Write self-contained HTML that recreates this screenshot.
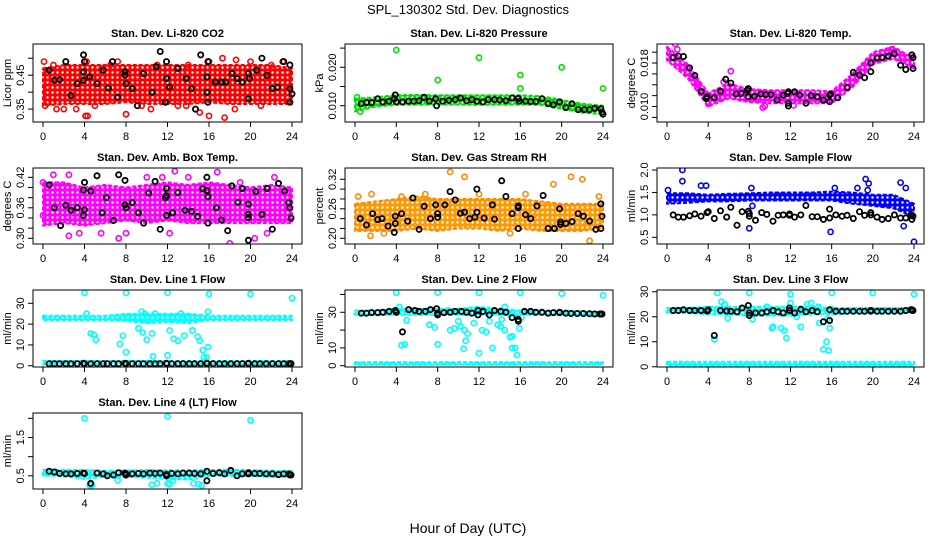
<!DOCTYPE html>
<html><head><meta charset="utf-8"><title>SPL_130302 Std. Dev. Diagnostics</title>
<style>
html,body{margin:0;padding:0;background:#fff;}
svg{display:block;font-family:"Liberation Sans",Arial,sans-serif;}
.pt{font-size:11px;font-weight:bold;}
.tk{font-size:11px;}
</style></head>
<body>
<svg id="chart" width="936" height="540" viewBox="0 0 936 540" xmlns="http://www.w3.org/2000/svg">
<text x="468" y="14" text-anchor="middle" font-size="13">SPL_130302  Std. Dev. Diagnostics</text>
<text x="468" y="533" text-anchor="middle" font-size="14">Hour of Day (UTC)</text>
</svg>
<script>
// ---------- shared data ----------
const bandHours = [0,2,4,6,8,10,12,14,16,18,20,22,24];
const xTicks = [0,4,8,12,16,20,24];
const blackHours = [0.6,1.1,1.6,2.2,2.7,3.3,3.9,4.0,4.6,5.2,5.8,6.2,6.8,7.3,7.9,8.0,8.0,8.6,9.2,9.7,10.3,10.8,11.3,11.9,11.9,12.4,13.0,13.5,14.1,14.6,15.2,15.8,15.8,16.4,17.0,17.5,18.1,18.7,19.2,19.8,19.8,20.4,20.9,21.5,22.1,22.7,23.2,23.7,23.8,23.9];

// ---------- P1 CO2 ----------
const co2Lo = [0.36,0.365,0.365,0.365,0.37,0.365,0.365,0.365,0.37,0.365,0.365,0.365,0.365];
const co2Hi = [0.47,0.48,0.48,0.48,0.48,0.48,0.48,0.48,0.48,0.48,0.48,0.48,0.47];
const co2Out = [[0.1,0.49],[1.3,0.35],[3.2,0.35],[4.1,0.33],[4.3,0.33],[8,0.335],[7.2,0.49],[9.5,0.36],[10.4,0.35],[13,0.36],[15.1,0.34],[16,0.33],[17.3,0.5],[17.5,0.325],[16,0.49],[18.5,0.35],[18.6,0.495],[13.8,0.36],[23.1,0.49],[4.2,0.49],[0.2,0.36],[2,0.35],[5,0.36],[6.5,0.48],[11,0.48],[14,0.48],[20,0.49],[22,0.48],[21,0.36],[1,0.48]];
const co2Black = [[0.6,0.465],[1.1,0.435],[1.6,0.437],[2.2,0.49],[2.7,0.39],[3.3,0.425],[3.9,0.51],[3.9,0.46],[4,0.49],[3.9,0.435],[4.5,0.445],[5.2,0.425],[5.8,0.465],[6.3,0.412],[6.7,0.49],[7.2,0.385],[7.9,0.46],[7.9,0.45],[8,0.425],[8.6,0.41],[9.1,0.36],[9.7,0.455],[10.5,0.4],[10.9,0.475],[11.3,0.52],[11.8,0.37],[11.9,0.49],[11.9,0.44],[12.2,0.415],[13,0.47],[13.8,0.44],[14.3,0.41],[14.7,0.35],[15.2,0.51],[15.8,0.4],[15.8,0.445],[15.9,0.49],[15.9,0.37],[16.6,0.43],[17.2,0.43],[17.6,0.43],[18.2,0.455],[18.7,0.44],[19.2,0.43],[19.8,0.38],[19.8,0.455],[19.9,0.44],[20.6,0.465],[21.1,0.5],[21.6,0.45],[22.1,0.41],[22.6,0.415],[23.2,0.49],[23.8,0.37],[23.8,0.48],[23.8,0.41],[24,0.395]];

// ---------- P2 Pressure ----------
const presLo = [0.0085,0.0098,0.0102,0.0103,0.0103,0.0103,0.0102,0.0103,0.0103,0.0102,0.0092,0.0082,0.0078];
const presHi = [0.0118,0.0122,0.0128,0.0128,0.0127,0.0127,0.0127,0.0127,0.0127,0.0125,0.0115,0.0105,0.0100];
const presOut = [[0.2,0.0122],[4,0.0245],[8,0.0167],[12,0.0225],[16,0.018],[16,0.0145],[20,0.02],[24,0.0145],[0.5,0.0085]];
const presBlack = [[0.6,0.0105],[1.1,0.0108],[1.6,0.0108],[2.2,0.0118],[2.7,0.011],[3.3,0.0112],[3.8,0.0118],[3.9,0.0128],[4,0.011],[4.6,0.011],[5.2,0.0112],[5.7,0.0112],[6.2,0.0113],[6.7,0.0122],[7.2,0.0112],[7.8,0.0118],[7.9,0.01],[8.5,0.0112],[9.1,0.0114],[9.7,0.0116],[10.2,0.012],[10.8,0.0113],[11.3,0.0116],[11.8,0.0112],[12.4,0.011],[12.9,0.0116],[13.5,0.0116],[14,0.0115],[14.6,0.0113],[15.2,0.012],[15.8,0.0119],[15.9,0.0112],[16.5,0.0112],[17,0.0111],[17.5,0.0111],[18.1,0.0118],[18.7,0.0105],[19.2,0.0102],[19.8,0.011],[20.4,0.0095],[21,0.0105],[21.6,0.009],[22.2,0.009],[22.7,0.009],[23.2,0.0093],[23.8,0.0092],[23.9,0.0083],[24,0.0078]];

// ---------- P3 Li-820 Temp ----------
const tempLo = [0.0185,0.0152,0.0100,0.0115,0.0108,0.0106,0.0106,0.0106,0.0106,0.0135,0.0178,0.0188,0.0170];
const tempHi = [0.0210,0.0178,0.0125,0.0142,0.0132,0.0130,0.0130,0.0130,0.0128,0.0160,0.0200,0.0210,0.0188];
const tempOut = [[9.3,0.0098],[9.5,0.0101],[12.3,0.0102],[6.2,0.0165],[0.8,0.0215],[4,0.0105],[1,0.0205],[3,0.014],[5.5,0.0145],[21.8,0.0205]];
const tempBlack = [[0.6,0.019],[1.1,0.0193],[1.6,0.0192],[2.2,0.0171],[2.7,0.0157],[3.3,0.0128],[3.8,0.0115],[3.9,0.0118],[4.6,0.0116],[5.2,0.0128],[5.7,0.015],[6.2,0.0143],[6.7,0.0123],[7.2,0.0124],[7.8,0.013],[7.9,0.0133],[7.9,0.0118],[8.5,0.0119],[9.1,0.0123],[9.6,0.0122],[10.1,0.0122],[10.7,0.0112],[11.3,0.0121],[11.7,0.0124],[11.8,0.0127],[11.8,0.0106],[11.8,0.0101],[12.4,0.0127],[12.9,0.0121],[13.5,0.0106],[14,0.012],[14.6,0.0118],[15.2,0.0112],[15.8,0.0121],[15.8,0.0109],[15.9,0.0123],[16.6,0.0116],[17.5,0.0135],[18.1,0.0163],[18.7,0.0158],[19.2,0.0153],[19.8,0.0164],[19.8,0.018],[20.4,0.0189],[20.9,0.019],[21.5,0.0193],[22.1,0.0197],[22.7,0.0176],[23.2,0.0168],[23.8,0.0195],[23.9,0.019],[23.9,0.017]];

// ---------- P4 Amb Box Temp ----------
const ambLo = [0.325,0.33,0.325,0.33,0.335,0.33,0.335,0.33,0.33,0.33,0.33,0.33,0.33];
const ambHi = [0.41,0.41,0.40,0.405,0.40,0.405,0.41,0.405,0.41,0.405,0.40,0.405,0.40];
const ambOut = [[1,0.425],[2.5,0.305],[2.5,0.425],[7.3,0.3],[12.2,0.31],[12.7,0.432],[16.8,0.43],[18,0.29],[20.4,0.3],[11.5,0.42],[3.5,0.31],[5.6,0.31],[22.3,0.42],[21.6,0.31],[8,0.31],[0,0.41],[0,0.345],[10,0.42],[14,0.42],[19,0.41]];
const ambBlack = [[0.6,0.405],[1.1,0.36],[1.7,0.325],[2.2,0.365],[2.7,0.355],[3.3,0.36],[3.9,0.395],[4,0.41],[4,0.356],[3.9,0.345],[4.6,0.393],[5.2,0.423],[6.1,0.38],[5.7,0.35],[6.8,0.335],[7.3,0.425],[7.9,0.366],[8,0.36],[7.9,0.414],[8.6,0.37],[9.2,0.35],[9.7,0.33],[10.2,0.389],[10.8,0.412],[11.3,0.318],[11.8,0.38],[11.9,0.398],[11.9,0.384],[11.9,0.345],[12.5,0.35],[13,0.39],[13.7,0.355],[14.3,0.353],[14.9,0.343],[15.4,0.397],[15.8,0.42],[15.8,0.394],[15.9,0.382],[15.9,0.33],[16.7,0.36],[17.2,0.336],[17.8,0.315],[18.2,0.403],[18.8,0.371],[19.2,0.398],[19.8,0.367],[19.8,0.347],[19.8,0.341],[19.8,0.296],[20.5,0.392],[21.1,0.347],[21.6,0.398],[22.1,0.318],[22.7,0.408],[23.3,0.393],[23.7,0.37],[23.8,0.36],[23.9,0.34]];

// ---------- P5 Gas Stream RH ----------
const rhLo = [0.215,0.215,0.215,0.22,0.215,0.22,0.22,0.215,0.22,0.215,0.215,0.215,0.22];
const rhHi = [0.27,0.275,0.28,0.285,0.28,0.28,0.28,0.28,0.28,0.275,0.27,0.27,0.27];
const rhOut = [[1.5,0.205],[2.8,0.21],[9.2,0.335],[10.6,0.325],[20.9,0.325],[22,0.32],[19.2,0.31],[22.7,0.195],[15,0.21],[23.6,0.285],[1.6,0.29],[6.8,0.29],[0.3,0.285],[4.5,0.285],[12,0.29],[16.5,0.29]];
const rhBlack = [[0.5,0.24],[1.1,0.227],[1.7,0.25],[2.2,0.238],[2.6,0.24],[3.2,0.225],[3.8,0.212],[3.9,0.245],[3.9,0.23],[4.5,0.25],[5.1,0.235],[5.6,0.282],[6.2,0.218],[6.7,0.265],[7.3,0.24],[7.8,0.268],[8,0.25],[8,0.243],[8.7,0.268],[9.2,0.295],[9.7,0.278],[10.2,0.251],[10.6,0.253],[11.1,0.24],[11.6,0.243],[11.8,0.253],[11.8,0.3],[12.5,0.241],[13.5,0.239],[13.3,0.268],[14.2,0.317],[14.6,0.285],[15.2,0.25],[15.8,0.266],[15.8,0.262],[15.8,0.22],[16.5,0.248],[17,0.24],[17.6,0.266],[18.2,0.287],[18.7,0.22],[19.3,0.22],[19.8,0.26],[19.9,0.233],[19.9,0.228],[20.4,0.23],[21,0.234],[21.6,0.25],[22.1,0.245],[22.7,0.235],[23.3,0.218],[23.8,0.22],[23.8,0.27],[23.9,0.245]];

// ---------- P6 Sample Flow ----------
const sfLo = [1.25,1.27,1.3,1.3,1.32,1.32,1.32,1.32,1.32,1.25,1.2,1.15,0.95];
const sfHi = [1.48,1.48,1.45,1.47,1.48,1.5,1.5,1.5,1.52,1.5,1.45,1.45,1.25];
const sfOut = [[1.5,2.0],[1.5,1.75],[3.8,1.65],[3.3,1.65],[8,0.7],[8.2,1.6],[8.3,1.2],[15.9,0.62],[19.3,1.8],[19.6,1.7],[22.7,1.72],[23,0.75],[23.2,1.6],[24,0.4],[19.5,1.55],[0.1,1.55],[18.5,1.6],[16.3,1.6]];
const sfBlackY = [1.0,0.95,0.95,0.98,1.02,0.97,1.05,1.07,0.92,1.09,0.95,1.17,0.77,1.07,1.08,0.97,1.03,0.88,1.05,1.01,0.86,0.99,1.0,1.02,0.99,0.95,1.0,1.21,0.96,0.96,0.9,1.13,0.93,1.0,0.97,0.99,0.92,1.07,0.99,1.05,1.0,0.95,0.9,0.92,1.0,0.93,0.93,1.0,0.9,0.97];

// ---------- P7 Line 1 Flow ----------
const l1Lo = [22,22,22,22,21.5,20.5,21,20.5,22,22,22,22,22];
const l1Hi = [24,24,24,24,25,25,25,25,24,24,24,24,24];
const l1BaseLo = [0.8,0.8,0.8,0.8,0.8,0.8,0.8,0.8,0.8,0.8,0.8,0.8,0.8];
const l1BaseHi = [2.3,2.3,2.3,2.3,2.3,2.3,2.3,2.3,2.3,2.3,2.3,2.3,2.3];
const l1Out = [[4,35],[8,35],[12,35],[16,34.5],[20,34.5],[24,32.5],[4.6,15.5],[4.9,15],[5.1,12.5],[7.4,10.5],[7.7,14.5],[8,6.5],[9.2,18],[9.6,16],[10,12.5],[10.5,15.5],[10.6,4.5],[12,5],[12.2,17],[12.6,13],[13,12],[13.6,14.5],[14.4,17],[14.9,14],[15.1,12],[15.4,7.5],[15.5,4],[15.8,4],[15.9,9],[15.9,26],[9.5,26],[9.8,25],[13.3,25],[10.8,25],[4.2,25]];
const l1BlackY = [1,1,1,1,1,1,1.2,1,1,1,1,1,1,1,1.2,1,1,1,1,1,1,1,1,1.2,1,1,1,1,1,1,1,1.2,1,1,1,1,1,1,1,1.2,1,1,1,1,1,1,1,1,1,1];

// ---------- P8 Line 2 Flow ----------
const l2Lo = [28.5,28.5,28.5,28.5,28.5,28.5,28.5,28.5,28.5,28.5,28.5,28,28];
const l2Hi = [31,31,32,32,32,32,33,32,31,31,31,30.5,30];
const l2BaseLo = [0.5,0.5,0.5,0.5,0.5,0.5,0.5,0.5,0.5,0.5,0.5,0.5,0.5];
const l2BaseHi = [2,2,2,2,2,2,2,2,2,2,2,2,2];
const l2Out = [[4,41],[8,41],[12,41],[16,41],[20,40.5],[24,39.5],[4.5,11.5],[4.8,12],[5,25.5],[7.2,23],[7.7,21.5],[8,12],[9.2,20],[9.6,21],[10.2,22],[10.6,20],[10.5,9.5],[10.7,14],[10.9,18],[12,7],[12.3,20],[12.7,19],[13.3,10],[13.8,23],[14.1,22],[14.5,20],[15,16],[15.2,16.5],[15.2,10],[15.5,10],[15.7,6],[15.9,21],[16.1,27],[9,31],[11,31],[14.5,33],[15,29],[4.3,33],[10,25],[11.5,24],[13,25],[14.2,26]];
const l2BlackY = [29.5,29.5,29.8,29.8,30,30.5,31,30,19,31.5,31,30.5,30.5,31.5,32,28.5,29.5,29.8,30,30.5,30.5,30,29.5,28.5,31,30.5,28.5,31,30.5,30,27,25,26,30.5,30.5,30,30,29.5,29.8,30,29.8,29.5,29.3,29.3,29.3,29.2,29,29,29,29];

// ---------- P9 Line 3 Flow ----------
const l3Lo = [21.5,21.5,21,21,20.5,20.5,20.5,21,21,21.5,21.5,21.5,21.5];
const l3Hi = [23.5,23.5,24,24,24,24,24,24,23.5,23.5,23.5,23.5,23.5];
const l3BaseLo = [0.5,0.5,0.5,0.5,0.5,0.5,0.5,0.5,0.5,0.5,0.5,0.5,0.5];
const l3BaseHi = [2,2,2,2,2,2,2,2,2,2,2,2,2];
const l3Out = [[4.9,29.5],[8,29.5],[12,29],[16,29.5],[20,29.5],[24,29],[5.3,26],[5.6,25],[5.9,19.5],[4.6,11],[8.3,19],[9.7,24],[10.2,15.5],[10.3,16],[11.1,15.5],[11.4,14.5],[11.6,11.5],[12.6,20],[13,16],[14.8,17.5],[15.2,7],[15.5,10],[15.6,19],[15.7,6.5],[15.8,15.5],[14,25.5],[16,23],[12,25.5],[13.6,25],[14.7,24]];
const l3BlackY = [22.5,22.5,22.8,22.5,22.5,22.5,22.3,22.8,12.5,22.5,22.3,22.2,22,23.5,24.5,20.5,21.5,21.5,21.5,22,22.5,22,21.5,22.5,23.5,21.5,23,22,22.5,22,18,18.5,22.8,22.2,22.2,22.2,22.2,22.2,22.2,22.2,22.5,22.2,22.2,22.2,22.2,22.2,22.5,22.8,22.8,22.5];

// ---------- P10 Line 4 Flow ----------
const l4Lo = [0.5,0.5,0.42,0.48,0.48,0.45,0.42,0.4,0.5,0.5,0.5,0.48,0.48];
const l4Hi = [0.66,0.66,0.65,0.63,0.64,0.65,0.64,0.64,0.65,0.66,0.65,0.63,0.62];
const l4Out = [[4,2.0],[12,2.05],[20,1.95],[4.5,0.25],[4.7,0.25],[12,0.3],[12.2,0.28],[10.5,0.27],[11,0.3],[14.5,0.3],[15,0.28],[15.3,0.25],[7.2,0.38],[12.5,0.38]];
const l4BlackY = [0.62,0.6,0.56,0.55,0.55,0.56,0.57,0.56,0.3,0.57,0.55,0.5,0.52,0.58,0.57,0.52,0.55,0.55,0.56,0.55,0.57,0.56,0.57,0.54,0.5,0.56,0.55,0.57,0.57,0.56,0.55,0.62,0.37,0.56,0.58,0.55,0.64,0.5,0.55,0.58,0.55,0.56,0.56,0.55,0.55,0.53,0.55,0.55,0.52,0.52];

// ---------- layout ----------
const NS = 'http://www.w3.org/2000/svg';
const svg = document.getElementById('chart');
const COLS = [[43,292],[355,603],[667,914]];
const ROWS = [[44,122],[168,244],[290,367],[413,489]];
function el(tag, attrs, parent){ const e=document.createElementNS(NS,tag); for(const k in attrs) e.setAttribute(k,attrs[k]); (parent||svg).appendChild(e); return e; }
function zipBlack(ys){ const out=[]; for(let i=0;i<Math.min(ys.length,blackHours.length);i++) out.push([blackHours[i],ys[i]]); return out; }

const defs = el('defs',{});
function pattern(id,color){
  const p = el('pattern',{id:id,width:5,height:5,patternUnits:'userSpaceOnUse'},defs);
  el('rect',{x:0,y:0,width:5,height:5,fill:color},p);
  el('circle',{cx:2.5,cy:2.5,r:1.2,fill:'#fff'},p);
}
pattern('pat-red','#ff0000'); pattern('pat-green','#00e000'); pattern('pat-magenta','#ff00ff');
pattern('pat-orange','#ff9900'); pattern('pat-blue','#0000ff'); pattern('pat-cyan','#00ffff');

const panels = [
 {name:'co2',title:'Stan. Dev. Li-820 CO2',ylab:'Licor ppm',col:0,row:0,dom:[0.312,0.542],ticks:[0.35,0.40,0.45,0.50],labels:[0.35,0.45],fmt:2,color:'#ff0000',pat:'pat-red',bands:[[co2Lo,co2Hi]],out:co2Out,black:co2Black},
 {name:'pressure',title:'Stan. Dev. Li-820 Pressure',ylab:'kPa',col:1,row:0,dom:[0.00576,0.02607],ticks:[0.010,0.015,0.020,0.025],labels:[0.010,0.020],fmt:3,color:'#00e000',pat:'pat-green',bands:[[presLo,presHi]],out:presOut,black:presBlack},
 {name:'li820-temp',title:'Stan. Dev. Li-820 Temp.',ylab:'degrees C',col:2,row:0,dom:[0.00715,0.0215],ticks:[0.008,0.010,0.012,0.014,0.016,0.018,0.020],labels:[0.010,0.018],fmt:3,color:'#ff00ff',pat:'pat-magenta',bands:[[tempLo,tempHi]],out:tempOut,black:tempBlack},
 {name:'amb-box-temp',title:'Stan. Dev. Amb. Box Temp.',ylab:'degrees C',col:0,row:1,dom:[0.2888,0.4383],ticks:[0.30,0.32,0.34,0.36,0.38,0.40,0.42],labels:[0.30,0.36,0.42],fmt:2,color:'#ff00ff',pat:'pat-magenta',bands:[[ambLo,ambHi]],out:ambOut,black:ambBlack},
 {name:'gas-stream-rh',title:'Stan. Dev. Gas Stream RH',ylab:'percent',col:1,row:1,dom:[0.1884,0.343],ticks:[0.20,0.22,0.24,0.26,0.28,0.30,0.32],labels:[0.20,0.26,0.32],fmt:2,color:'#ff8800',pat:'pat-orange',bands:[[rhLo,rhHi]],out:rhOut,black:rhBlack},
 {name:'sample-flow',title:'Stan. Dev. Sample Flow',ylab:'ml/min',col:2,row:1,dom:[0.351,2.045],ticks:[0.5,1.0,1.5,2.0],labels:[0.5,1.0,1.5,2.0],fmt:1,color:'#0000ff',pat:'pat-blue',bands:[[sfLo,sfHi]],out:sfOut,black:zipBlack(sfBlackY)},
 {name:'line1-flow',title:'Stan. Dev. Line 1 Flow',ylab:'ml/min',col:0,row:2,dom:[-0.6,36.4],ticks:[0,10,20,30],labels:[0,10,20,30],fmt:0,color:'#00ffff',pat:'pat-cyan',bands:[[l1Lo,l1Hi],[l1BaseLo,l1BaseHi]],out:l1Out,black:zipBlack(l1BlackY)},
 {name:'line2-flow',title:'Stan. Dev. Line 2 Flow',ylab:'ml/min',col:1,row:2,dom:[-0.73,42.5],ticks:[0,10,20,30,40],labels:[0,10,30],fmt:0,color:'#00ffff',pat:'pat-cyan',bands:[[l2Lo,l2Hi],[l2BaseLo,l2BaseHi]],out:l2Out,black:zipBlack(l2BlackY)},
 {name:'line3-flow',title:'Stan. Dev. Line 3 Flow',ylab:'ml/min',col:2,row:2,dom:[-0.1,30.7],ticks:[0,10,20,30],labels:[0,10,20,30],fmt:0,color:'#00ffff',pat:'pat-cyan',bands:[[l3Lo,l3Hi],[l3BaseLo,l3BaseHi]],out:l3Out,black:zipBlack(l3BlackY)},
 {name:'line4-flow',title:'Stan. Dev. Line 4 (LT) Flow',ylab:'ml/min',col:0,row:3,dom:[0.155,2.14],ticks:[0.5,1.0,1.5,2.0],labels:[0.5,1.5],fmt:1,color:'#00ffff',pat:'pat-cyan',bands:[[l4Lo,l4Hi]],out:l4Out,black:zipBlack(l4BlackY)}
];

panels.forEach(p=>{
  const [dx0,dx1] = COLS[p.col], [by0,by1] = ROWS[p.row];
  const bx0 = dx0-10, bx1 = dx1+10;
  const xs = h => dx0 + (h/24)*(dx1-dx0);
  const ys = v => by1 - (v-p.dom[0])/(p.dom[1]-p.dom[0])*(by1-by0);
  const g = el('g',{});
  
  
  const clipId = 'clip-'+p.name;
  const cp = el('clipPath',{id:clipId},defs);
  el('rect',{x:bx0,y:by0,width:bx1-bx0,height:by1-by0},cp);
  const plot = el('g',{'clip-path':'url(#'+clipId+')'},g);
  
  
  p.bands.forEach(([lo,hi],bi)=>{
    let d='';
    bandHours.forEach((h,i)=>{ d += (i?'L':'M')+xs(h).toFixed(1)+' '+ys(hi[i]).toFixed(1); });
    for(let i=bandHours.length-1;i>=0;i--) d += 'L'+xs(bandHours[i]).toFixed(1)+' '+ys(lo[i]).toFixed(1);
    const path = el('path',{d:d+'Z',fill:'url(#'+p.pat+')',stroke:p.color,'stroke-width':2,'stroke-dasharray':'4 2','stroke-linejoin':'round'},plot);
    
    
  });
  p.out.forEach(([h,v])=>{
    const c = el('circle',{cx:xs(h).toFixed(1),cy:ys(v).toFixed(1),r:2.6,fill:'none',stroke:p.color,'stroke-width':1.6},plot);
    
    
  });
  p.black.forEach(([h,v])=>{
    const c = el('circle',{cx:xs(h).toFixed(1),cy:ys(v).toFixed(1),r:2.6,fill:'none',stroke:'#000','stroke-width':1.8},plot);
    
    
  });
  const box = el('rect',{x:bx0,y:by0,width:bx1-bx0,height:by1-by0,fill:'none',stroke:'#000','stroke-width':1},g);
  
  
  const t = el('text',{x:(bx0+bx1)/2,y:by0-7,'text-anchor':'middle',class:'pt'},g);
  t.textContent = p.title;
  
  
  const xa = el('g',{},g);
  
  
  el('line',{x1:xs(xTicks[0]),x2:xs(xTicks[xTicks.length-1]),y1:by1,y2:by1,stroke:'#000'},xa);
  xTicks.forEach(h=>{
    el('line',{x1:xs(h),x2:xs(h),y1:by1,y2:by1+5,stroke:'#000'},xa);
    const tl = el('text',{x:xs(h),y:by1+18,'text-anchor':'middle',class:'tk'},xa);
    tl.textContent = h;
  });
  const ya = el('g',{},g);
  
  
  const tv = p.ticks.filter(v=>v>=p.dom[0]&&v<=p.dom[1]);
  el('line',{x1:bx0,x2:bx0,y1:ys(tv[0]),y2:ys(tv[tv.length-1]),stroke:'#000'},ya);
  tv.forEach(v=>{ el('line',{x1:bx0-5,x2:bx0,y1:ys(v),y2:ys(v),stroke:'#000'},ya); });
  p.labels.forEach(v=>{
    const lx = bx0-9, ly = ys(v);
    const tl = el('text',{x:lx,y:ly,'text-anchor':'middle',class:'tk',transform:'rotate(-90 '+lx+' '+ly+')'},ya);
    tl.textContent = v.toFixed(p.fmt);
  });
  const yl = el('text',{x:bx0-22,y:(by0+by1)/2,'text-anchor':'middle',class:'tk',transform:'rotate(-90 '+(bx0-22)+' '+((by0+by1)/2)+')'},g);
  yl.textContent = p.ylab;
  
  
});
</script>
</body></html>
